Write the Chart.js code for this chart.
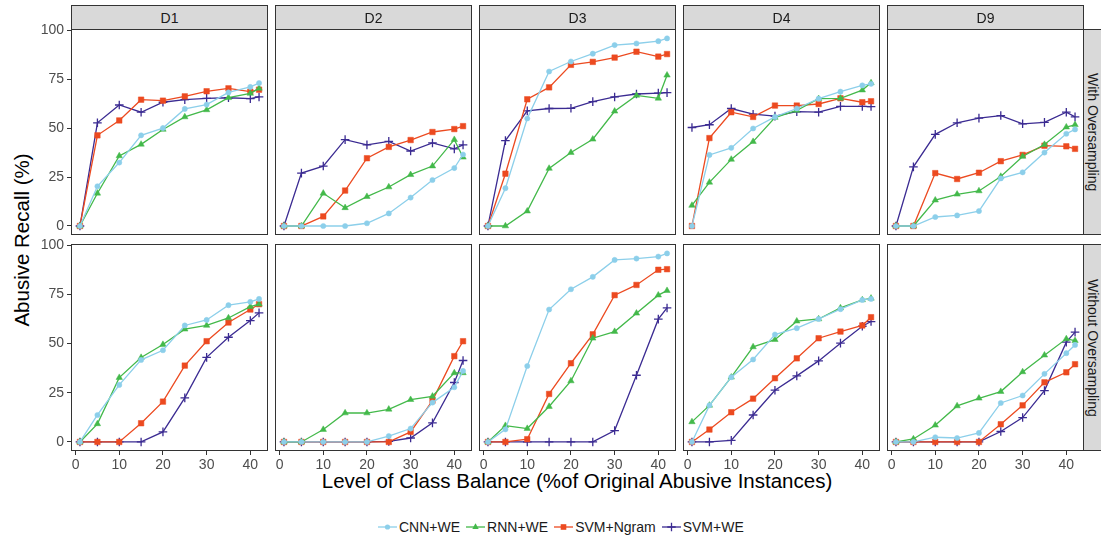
<!DOCTYPE html>
<html>
<head>
<meta charset="utf-8">
<script src="https://cdn.jsdelivr.net/npm/chart.js@4"></script>
<style>
body { margin: 0; background: #fff; width: 1101px; height: 537px; overflow: hidden; position: relative; font-family: "Liberation Sans", Arial, sans-serif; }
canvas { position: absolute; }
.strip { position: absolute; box-sizing: border-box; border: 1px solid #333; background: #d9d9d9; color: #1a1a1a; font-size: 14px; display: flex; align-items: center; justify-content: center; }
.rstrip { writing-mode: vertical-rl; }
#ytitle { position: absolute; left: 22px; top: 240px; transform: translate(-50%, -50%) rotate(-90deg); font-size: 20.5px; white-space: nowrap; color: #000; }
#xtitle { position: absolute; left: 577px; top: 481px; transform: translate(-50%, -50%); font-size: 20.5px; white-space: nowrap; color: #000; }
#legend { position: absolute; left: 378px; top: 518px; height: 18px; display: flex; align-items: center; font-size: 14px; color: #1a1a1a; }
#legend .item { display: flex; align-items: center; margin-right: 6px; }
#legend svg { margin-right: 2px; }
</style>
</head>
<body>
<div id="ytitle">Abusive Recall (%)</div>
<div id="xtitle">Level of Class Balance (%of Original Abusive Instances)</div>
<div id="legend"></div>
<script>
const dataNames = ["D1", "D2", "D3", "D4", "D9"];
const rowLabels = ["With Oversampling", "Without Oversampling"];
const methods = ["CNN+WE", "RNN+WE", "SVM+Ngram", "SVM+WE"];
const balance = [1, 5, 10, 15, 20, 25, 30, 35, 40, 42];
const xTicks = [0, 10, 20, 30, 40];
const yTicks = [0, 25, 50, 75, 100];

// with oversampling, one row per data set (D1, D2, D3, D4, D9)
const cnnWith = [
  [0, 20.3, 32.4, 46.3, 50, 59.8, 62, 68.2, 71, 73],
  [0, 0, 0, 0, 1.4, 6.4, 14.5, 23.5, 29.6, 36.5],
  [0, 19.3, 54.9, 78.9, 84, 88, 92.4, 93.2, 94.4, 95.8],
  [0, 36.3, 39.9, 49.8, 55.7, 60, 65, 68.6, 71.8, 72.6],
  [0, 0, 4.6, 5.4, 7.6, 24.3, 27.4, 37.5, 47.1, 49.3]
];
const rnnWith = [
  [0, 16.7, 35.8, 41.7, 49.3, 55.7, 59.3, 65.5, 67.7, 70.3],
  [0, 0, 16.7, 9.3, 15, 19.9, 26.2, 30.6, 44.1, 35.1],
  [0, 0, 7.6, 29.4, 37.5, 44.3, 58.6, 66.7, 65.2, 77],
  [10.5, 22.3, 34, 43.1, 55.4, 59, 65, 65.2, 69.4, 73.1],
  [0, 0, 13.2, 16.2, 17.9, 25.3, 35.5, 41.6, 50.5, 51.7]
];
const ngramWith = [
  [0, 46.3, 53.9, 64.5, 64, 66.2, 68.8, 70.3, 68.6, 69.6],
  [0, 0, 4.9, 18.1, 34.6, 40.4, 43.9, 48, 49.5, 51],
  [0, 26.7, 64.7, 70.8, 82.3, 83.8, 86, 89, 86.5, 87.8],
  [0, 44.9, 58.1, 55.7, 61.5, 61.5, 62.3, 65.2, 63.2, 63.7],
  [0, 0, 27, 24, 27.2, 33.1, 36.3, 41, 40.7, 39.4]
];
const svmWith = [
  [0, 52.7, 61.8, 58.1, 63.2, 64.5, 65.2, 65.5, 65, 65.9],
  [0, 27, 30.6, 44.1, 41.4, 43.2, 38.3, 42.4, 39.4, 41.4],
  [0, 43.6, 58.8, 60, 60.1, 63.5, 65.9, 67.4, 67.9, 68.1],
  [50.3, 51.7, 60, 57.1, 56.1, 58.4, 58.1, 61.1, 61.1, 61],
  [0, 30.2, 46.8, 52.7, 55.1, 56.4, 52.2, 52.9, 58.1, 55.7]
];

// without oversampling
const cnnWithout = [
  [0, 13.7, 29, 41.7, 46.6, 59.2, 62, 69.5, 71.2, 72.7],
  [0, 0, 0, 0, 0, 3, 6.8, 20, 27.8, 36.1],
  [0, 6.4, 38.6, 67.3, 77.6, 83.9, 92.5, 93.2, 94.2, 95.8],
  [0, 18.6, 32.9, 41.9, 54.6, 57.8, 62.5, 67.5, 72.2, 72.7],
  [0, 0, 2.4, 2, 4.6, 19.8, 23.6, 34.6, 45.1, 49.3]
];
const rnnWithout = [
  [0, 9.2, 32.7, 42.9, 49.5, 57.3, 59.2, 63, 68.8, 70],
  [0, 0, 6.3, 14.7, 14.7, 16.6, 21.5, 23.2, 35.1, 35.1],
  [0, 8.3, 6.8, 18, 31, 52.7, 56.1, 65.4, 74.6, 76.9],
  [10.2, 18.6, 32.9, 48.3, 52, 61.4, 62.5, 68.1, 72.2, 73],
  [0, 1.5, 8.5, 18.3, 22.2, 25.6, 35.6, 44.1, 52.4, 51.5]
];
const ngramWithout = [
  [0, 0, 0, 9.5, 20.5, 38.8, 51.2, 60.7, 67.3, 70],
  [0, 0, 0, 0, 0, 0, 5.1, 21, 43.6, 51.2],
  [0, 0, 1.4, 24.4, 40, 54.7, 74.6, 79.8, 87.5, 87.8],
  [0, 6.3, 15.1, 22, 32.4, 42.5, 52.7, 56.1, 59.2, 63.4],
  [0, 0, 0, 0, 0, 9, 18.6, 30.3, 35.4, 39.5]
];
const svmWithout = [
  [0, 0, 0, 0, 5.1, 22.4, 43, 53.2, 61.7, 65.6],
  [0, 0, 0, 0, 0, 0.3, 2, 9.7, 30.2, 41.4],
  [0, 0, 0, 0, 0, 0, 5.8, 33.9, 62.4, 68.1],
  [0, 0, 0.8, 13.7, 26.3, 33.6, 41.2, 50.2, 58.8, 61.2],
  [0, 0, 0, 0, 0, 5.3, 12.4, 26.1, 50.7, 55.8]
];

const colors = ["#8ccfea", "#43b94a", "#ec4a20", "#3b2b92"];
const pointStyles = ["circle", "triangle", "rect", "cross"];
const radii = [2.6, 3.7, 3.9, 4.3];
const font = { family: "'Liberation Sans', Arial, sans-serif", size: 14 };

const colLeft = [71, 275, 479, 683, 887];
const panelW = 197;
const rowTop = [29, 244];
const panelH = [206, 207];

const panelBorder = {
  id: "panelBorder",
  afterDatasetsDraw(chart) {
    const a = chart.chartArea;
    const ctx = chart.ctx;
    ctx.save();
    ctx.strokeStyle = "#333";
    ctx.lineWidth = 1;
    ctx.strokeRect(a.left + 0.5, a.top + 0.5, a.right - a.left - 1, a.bottom - a.top - 1);
    ctx.restore();
  }
};

function makePanel(r, c) {
  const padL = c === 0 ? 71 : 9;
  const padT = 14;
  const padB = r === 1 ? 24 : 14;
  const cv = document.createElement("canvas");
  cv.width = padL + panelW + 9;
  cv.height = padT + panelH[r] + padB;
  cv.style.left = colLeft[c] - padL + "px";
  cv.style.top = rowTop[r] - padT + "px";
  document.body.appendChild(cv);

  const series = r === 0
    ? [cnnWith, rnnWith, ngramWith, svmWith]
    : [cnnWithout, rnnWithout, ngramWithout, svmWithout];

  new Chart(cv, {
    type: "line",
    data: {
      datasets: methods.map((m, i) => ({
        label: m,
        data: balance.map((x, k) => ({ x: x, y: series[i][c][k] })),
        borderColor: colors[i],
        backgroundColor: colors[i],
        borderWidth: 1.3,
        pointStyle: pointStyles[i],
        pointRadius: radii[i],
        pointBorderWidth: i === 3 ? 1.3 : 0.5,
        pointBorderColor: colors[i],
        pointBackgroundColor: colors[i],
        tension: 0,
        clip: false
      }))
    },
    options: {
      responsive: false,
      animation: false,
      events: [],
      layout: { autoPadding: false, padding: { left: c === 0 ? 0 : padL, right: 9, top: padT, bottom: 0 } },
      plugins: { legend: { display: false }, tooltip: { enabled: false } },
      scales: {
        x: {
          type: "linear",
          min: -1.05,
          max: 44.05,
          display: r === 1,
          afterFit: (s) => { s.height = padB; },
          afterBuildTicks: (s) => { s.ticks = xTicks.map((v) => ({ value: v })); },
          grid: { drawOnChartArea: false, tickLength: 4, color: "#333", tickColor: "#333" },
          border: { display: false },
          ticks: { color: "#4d4d4d", font: font, padding: 2, autoSkip: false, maxRotation: 0 }
        },
        y: {
          type: "linear",
          min: -4.6,
          max: 100.6,
          display: c === 0,
          afterFit: (s) => { s.width = c === 0 ? padL : 0; },
          afterBuildTicks: (s) => { s.ticks = yTicks.map((v) => ({ value: v })); },
          grid: { drawOnChartArea: false, tickLength: 4, color: "#333", tickColor: "#333" },
          border: { display: false },
          ticks: { color: "#4d4d4d", font: font, padding: 3, autoSkip: false }
        }
      }
    },
    plugins: [panelBorder]
  });
}

for (let r = 0; r < 2; r++) {
  for (let c = 0; c < 5; c++) makePanel(r, c);
}

// facet strips
dataNames.forEach((name, c) => {
  const s = document.createElement("div");
  s.className = "strip";
  s.style.left = colLeft[c] + "px";
  s.style.top = "5px";
  s.style.width = panelW + "px";
  s.style.height = "25px";
  s.textContent = name;
  document.body.appendChild(s);
});
rowLabels.forEach((name, r) => {
  const s = document.createElement("div");
  s.className = "strip rstrip";
  s.style.left = colLeft[4] + panelW - 1 + "px";
  s.style.top = rowTop[r] + "px";
  s.style.width = "20px";
  s.style.height = panelH[r] + "px";
  s.textContent = name;
  document.body.appendChild(s);
});

// legend
const legend = document.getElementById("legend");
const markers = [
  (col) => `<circle cx="9.5" cy="9" r="2.6" fill="${col}"/>`,
  (col) => `<polygon points="9.5,5.3 12.7,10.9 6.3,10.9" fill="${col}"/>`,
  (col) => `<rect x="6.7" y="6.2" width="5.6" height="5.6" fill="${col}"/>`,
  (col) => `<path d="M9.5 4.8V13.2M5.3 9H13.7" stroke="${col}" stroke-width="1.3"/>`
];
methods.forEach((m, i) => {
  const it = document.createElement("div");
  it.className = "item";
  it.innerHTML = `<svg width="19" height="18"><line x1="0" y1="9" x2="19" y2="9" stroke="${colors[i]}" stroke-width="1.3"/>${markers[i](colors[i])}</svg><span>${m}</span>`;
  legend.appendChild(it);
});
</script>
</body>
</html>
